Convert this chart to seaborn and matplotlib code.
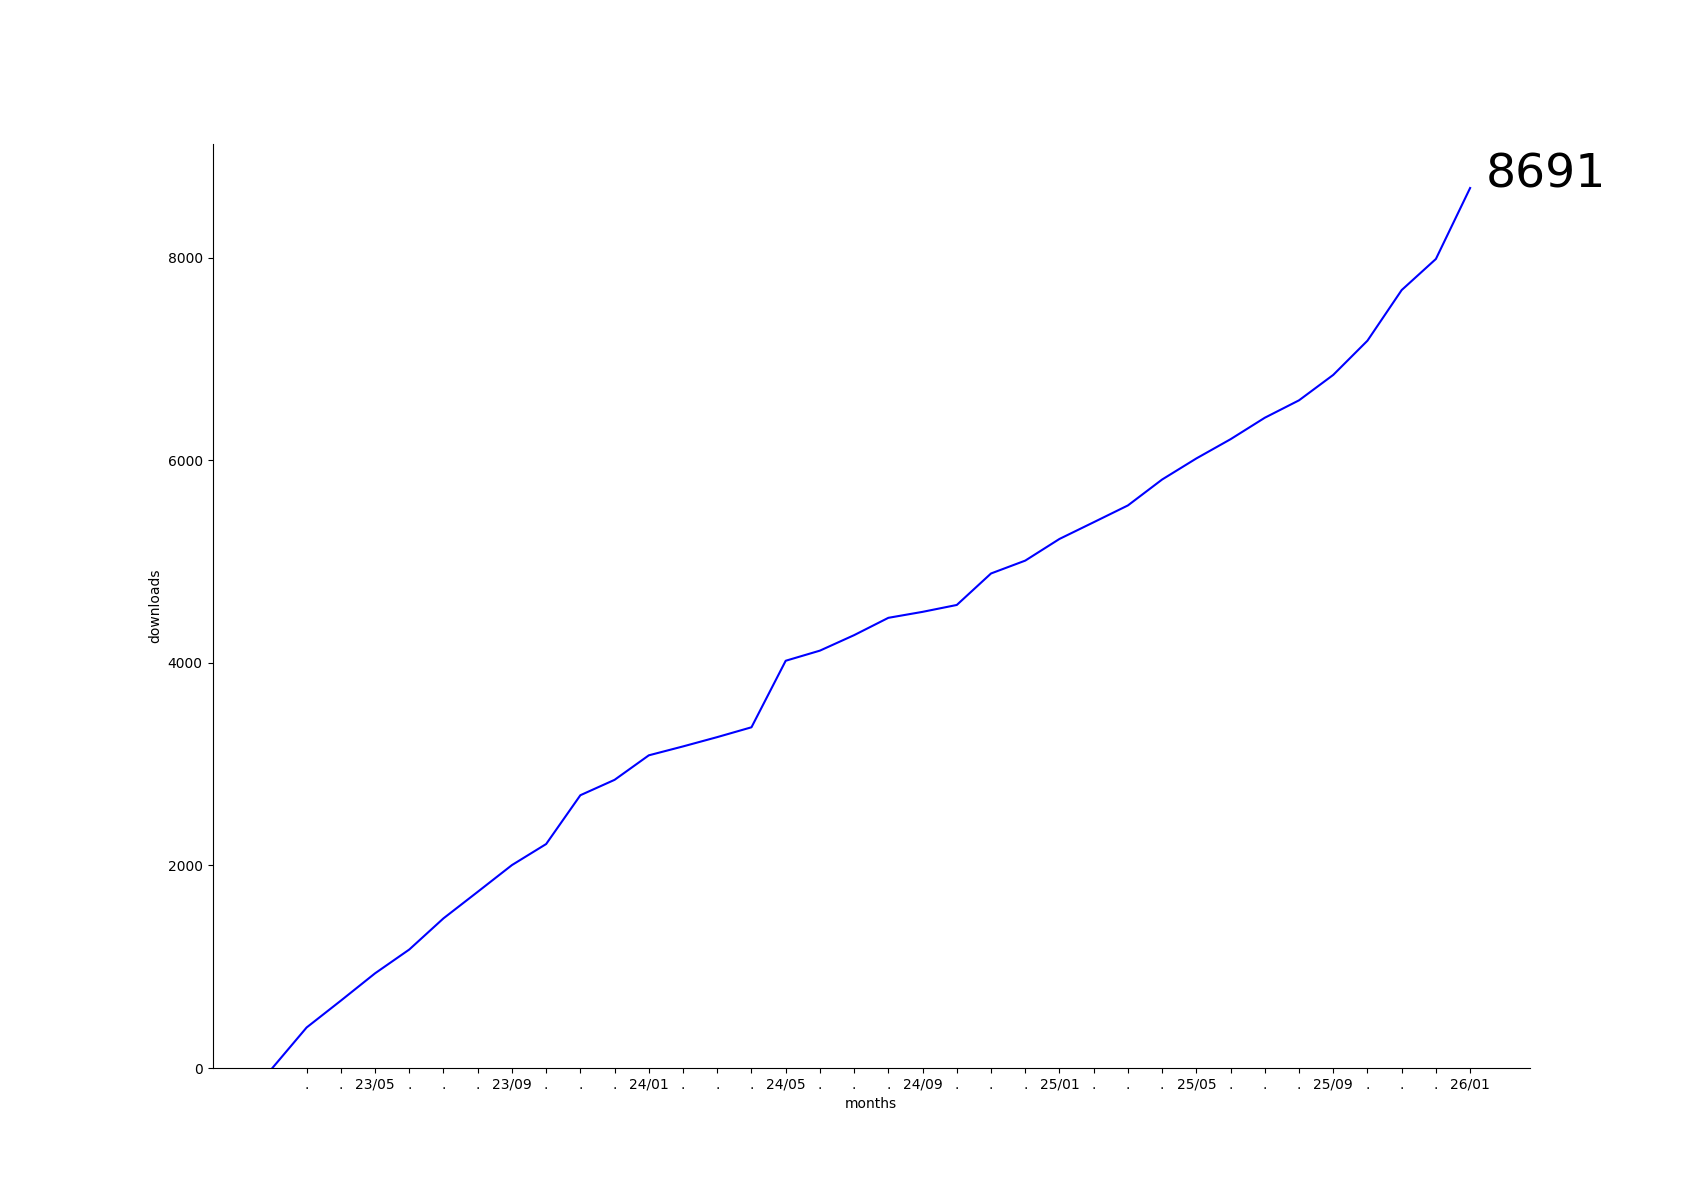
import matplotlib
matplotlib.use("Agg")
import matplotlib.pyplot as plt
import seaborn as sns
import pandas as pd

months = ["23/02", "23/03", "23/04", "23/05", "23/06", "23/07", "23/08", "23/09",
          "23/10", "23/11", "23/12", "24/01", "24/02", "24/03", "24/04", "24/05",
          "24/06", "24/07", "24/08", "24/09", "24/10", "24/11", "24/12", "25/01",
          "25/02", "25/03", "25/04", "25/05", "25/06", "25/07", "25/08", "25/09",
          "25/10", "25/11", "25/12", "26/01"]
downloads = [0, 400, 665, 935, 1170, 1478, 1740, 2004, 2212, 2694, 2846, 3088,
             3176, 3268, 3365, 4022, 4122, 4275, 4446, 4505, 4573, 4884, 5011, 5225,
             5390, 5556, 5812, 6020, 6210, 6422, 6594, 6845, 7183, 7683, 7990, 8691]
tick_labels = [m if (i - 3) % 4 == 0 else "." for i, m in enumerate(months)][1:]

df = pd.DataFrame({"idx": range(len(months)), "downloads": downloads})

fig, ax = plt.subplots(figsize=(17, 12), dpi=100)
sns.lineplot(data=df, x="idx", y="downloads", color="blue", linewidth=1.5, ax=ax)
ax.set_ylim(bottom=0)
ax.set_xticks(list(range(1, len(months))))
ax.set_xticklabels(tick_labels)
ax.set_xlabel("months")
ax.set_ylabel("downloads")
ax.spines["top"].set_visible(False)
ax.spines["right"].set_visible(False)
ax.text(df["idx"].iloc[-1] + 0.45, downloads[-1], str(downloads[-1]), fontsize=34)
fig.savefig("out.png", dpi=100)
